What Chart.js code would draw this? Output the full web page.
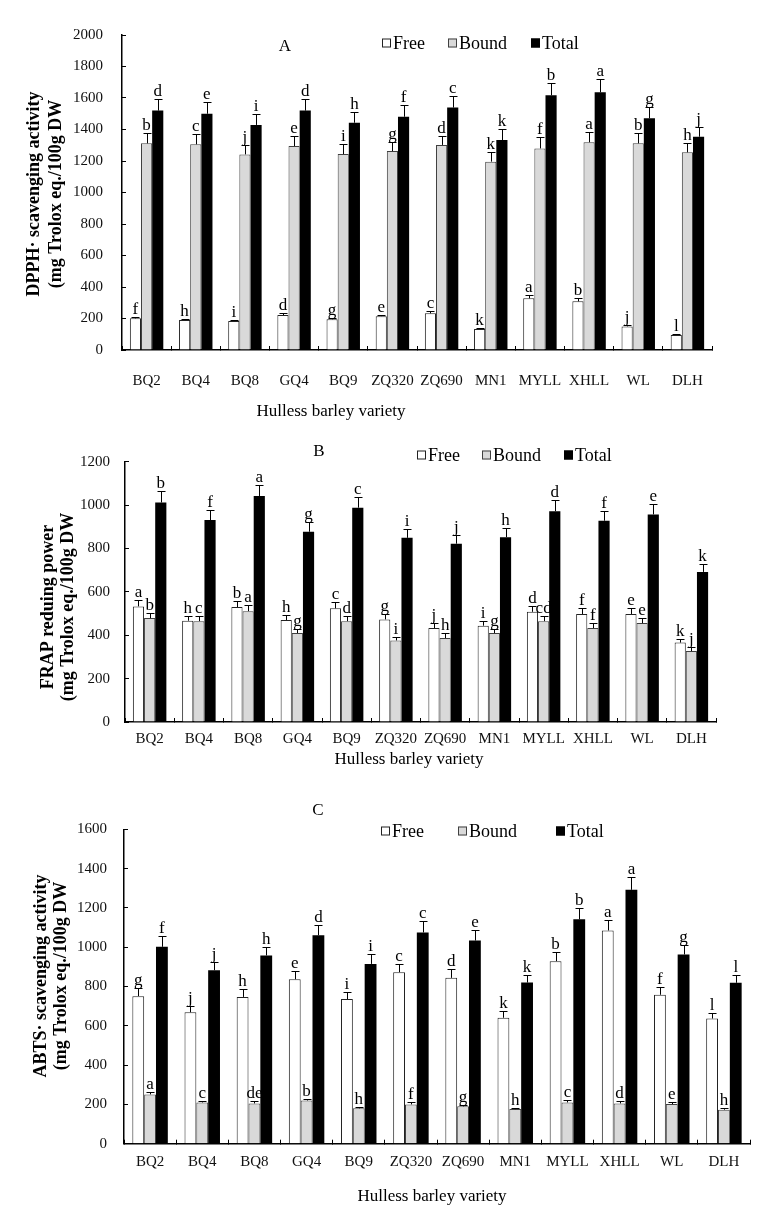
<!DOCTYPE html>
<html>
<head>
<meta charset="utf-8">
<script src="https://cdn.jsdelivr.net/npm/chart.js@4.4.1/dist/chart.umd.min.js"></script>
<style>
  html, body { margin: 0; padding: 0; background: #fff; }
  #page { position: relative; width: 770px; height: 1220px; overflow: hidden; }
  .panel { position: absolute; left: 0; width: 770px; }
</style>
</head>
<body>
<div id="page">
  <div class="panel" style="top:0;height:425px"><canvas id="chartA"></canvas></div>
  <div class="panel" style="top:425px;height:370px"><canvas id="chartB"></canvas></div>
  <div class="panel" style="top:795px;height:425px"><canvas id="chartC"></canvas></div>
</div>
<script>
// Variedades de cebada
const varieties = ['BQ2', 'BQ4', 'BQ8', 'GQ4', 'BQ9', 'ZQ320', 'ZQ690', 'MN1', 'MYLL', 'XHLL', 'WL', 'DLH'];
const seriesNames = ['Free', 'Bound', 'Total'];

// A: DPPH
const dpphFree = [201, 190, 184, 222, 195, 215, 233, 133, 328, 309, 150, 95];
const dpphFreeErr = [8, 6, 6, 10, 6, 10, 13, 5, 19, 19, 6, 4];
const dpphFreeLetters = ['f', 'h', 'i', 'd', 'g', 'e', 'c', 'k', 'a', 'b', 'j', 'l'];
const dpphBound = [1312, 1306, 1242, 1295, 1244, 1263, 1302, 1196, 1280, 1319, 1312, 1255];
const dpphBoundErr = [64, 63, 57, 64, 66, 60, 59, 63, 70, 67, 68, 57];
const dpphBoundLetters = ['b', 'c', 'j', 'e', 'i', 'g', 'd', 'k', 'f', 'a', 'b', 'h'];
const dpphTotal = [1520, 1500, 1429, 1520, 1443, 1481, 1539, 1333, 1617, 1636, 1471, 1354];
const dpphTotalErr = [74, 72, 67, 72, 70, 75, 72, 68, 80, 82, 74, 64];
const dpphTotalLetters = ['d', 'e', 'i', 'd', 'h', 'f', 'c', 'k', 'b', 'a', 'g', 'j'];

// B: FRAP
const frapFree = [533, 467, 530, 470, 524, 473, 433, 444, 508, 498, 498, 366];
const frapFreeErr = [28, 23, 26, 25, 29, 23, 25, 23, 28, 27, 27, 16];
const frapFreeLetters = ['a', 'h', 'b', 'h', 'c', 'g', 'j', 'i', 'd', 'f', 'e', 'k'];
const frapBound = [479, 465, 511, 410, 465, 376, 387, 410, 465, 433, 456, 327];
const frapBoundErr = [25, 22, 28, 20, 22, 18, 23, 18, 22, 23, 25, 17];
const frapBoundLetters = ['b', 'c', 'a', 'g', 'd', 'i', 'h', 'g', 'cd', 'f', 'e', 'j'];
const frapTotal = [1012, 931, 1042, 877, 988, 849, 822, 852, 972, 928, 957, 692];
const frapTotalErr = [53, 46, 52, 43, 49, 43, 40, 43, 50, 47, 48, 35];
const frapTotalLetters = ['b', 'f', 'a', 'g', 'c', 'i', 'j', 'h', 'd', 'f', 'e', 'k'];

// C: ABTS
const abtsFree = [751, 669, 747, 837, 736, 873, 844, 641, 929, 1085, 758, 637];
const abtsFreeErr = [39, 33, 38, 41, 37, 41, 44, 34, 47, 51, 37, 29];
const abtsFreeLetters = ['g', 'j', 'h', 'e', 'i', 'c', 'd', 'k', 'b', 'a', 'f', 'l'];
const abtsBound = [251, 210, 205, 220, 180, 200, 190, 176, 210, 205, 202, 173];
const abtsBoundErr = [12, 9, 10, 10, 9, 10, 7, 7, 10, 10, 10, 9];
const abtsBoundLetters = ['a', 'c', 'de', 'b', 'h', 'f', 'g', 'h', 'c', 'd', 'e', 'h'];
const abtsTotal = [1002, 883, 958, 1061, 915, 1075, 1034, 820, 1142, 1292, 963, 819];
const abtsTotalErr = [54, 44, 45, 54, 48, 57, 52, 41, 56, 64, 49, 40];
const abtsTotalLetters = ['f', 'j', 'h', 'd', 'i', 'c', 'e', 'k', 'b', 'a', 'g', 'l'];

const serif = "'Liberation Serif', 'Times New Roman', serif";
const fills = ['#ffffff', '#d9d9d9', '#000000'];
const borders = ['#222222', '#404040', '#000000'];

// Barras de error, letras, leyenda y títulos
const panelDecor = {
    id: 'panelDecor',
    afterDatasetsDraw(chart) {
        const ctx = chart.ctx;
        const yScale = chart.scales.y;
        ctx.save();
        ctx.strokeStyle = '#000';
        ctx.lineWidth = 1;
        ctx.fillStyle = '#000';
        ctx.font = '17px ' + serif;
        ctx.textAlign = 'center';
        ctx.textBaseline = 'alphabetic';
        chart.data.datasets.forEach((ds, i) => {
            const meta = chart.getDatasetMeta(i);
            meta.data.forEach((bar, j) => {
                const top = Math.round(yScale.getPixelForValue(ds.data[j] + ds.errors[j])) + 0.5;
                const x = Math.round(bar.x) + 0.5;
                ctx.beginPath();
                ctx.moveTo(x, bar.y);
                ctx.lineTo(x, top);
                ctx.moveTo(x - 4, top);
                ctx.lineTo(x + 4, top);
                ctx.stroke();
                ctx.fillText(ds.letters[j], bar.x, top - 4);
            });
        });
        ctx.restore();
    },
    afterDraw(chart, args, opts) {
        const ctx = chart.ctx;
        ctx.save();
        ctx.fillStyle = '#000';

        // Letra del panel
        ctx.font = '17px ' + serif;
        ctx.textAlign = 'center';
        ctx.textBaseline = 'middle';
        ctx.fillText(opts.letter.text, opts.letter.x, opts.letter.y);

        // Leyenda
        ctx.font = '18px ' + serif;
        ctx.textAlign = 'left';
        opts.legend.xs.forEach((bx, i) => {
            const by = opts.legend.y - 4.5;
            ctx.fillStyle = fills[i];
            ctx.fillRect(bx, by, 9, 9);
            ctx.strokeStyle = borders[i];
            ctx.lineWidth = 1;
            ctx.strokeRect(bx + 0.5, by + 0.5, 8, 8);
            ctx.fillStyle = '#000';
            ctx.fillText(seriesNames[i], bx + 11, opts.legend.y + 1);
        });

        // Título del eje x
        ctx.font = '17px ' + serif;
        ctx.textAlign = 'center';
        ctx.fillText(opts.xTitle.text, opts.xTitle.x, opts.xTitle.y);

        // Título del eje y (dos líneas, girado)
        ctx.font = 'bold 18px ' + serif;
        opts.yTitle.lines.forEach((line, i) => {
            ctx.save();
            ctx.translate(opts.yTitle.xs[i], opts.yTitle.y);
            ctx.rotate(-Math.PI / 2);
            ctx.fillText(line, 0, 0);
            ctx.restore();
        });
        ctx.restore();
    }
};

function makeDataset(i, values, errors, letters) {
    return {
        label: seriesNames[i],
        data: values,
        errors: errors,
        letters: letters,
        backgroundColor: fills[i],
        borderColor: borders[i],
        borderWidth: i === 2 ? 0 : 1,
        categoryPercentage: 0.68,
        barPercentage: 1.0
    };
}

function makePanel(canvasId, p) {
    return new Chart(document.getElementById(canvasId), {
        type: 'bar',
        data: {
            labels: varieties,
            datasets: [
                makeDataset(0, p.free, p.freeErr, p.freeLetters),
                makeDataset(1, p.bound, p.boundErr, p.boundLetters),
                makeDataset(2, p.total, p.totalErr, p.totalLetters)
            ]
        },
        options: {
            responsive: true,
            maintainAspectRatio: false,
            animation: false,
            layout: {
                padding: { top: p.area.top, right: 770 - p.area.right, bottom: 0, left: 0 }
            },
            plugins: {
                legend: { display: false },
                title: { display: false },
                tooltip: { enabled: false },
                panelDecor: p.decor
            },
            scales: {
                x: {
                    afterFit: (scale) => { scale.height = p.height - p.area.bottom; },
                    grid: { drawOnChartArea: false, drawTicks: true, tickLength: -4, color: '#000', lineWidth: 1 },
                    border: { display: true, color: '#000', width: 1.5 },
                    ticks: { color: '#111', padding: p.xTickPad, font: { family: serif, size: 15 } }
                },
                y: {
                    min: 0,
                    max: p.yMax,
                    afterFit: (scale) => { scale.width = p.area.left; },
                    grid: { drawOnChartArea: false, drawTicks: true, tickLength: -4, color: '#000', lineWidth: 1 },
                    border: { display: true, color: '#000', width: 1.5 },
                    ticks: {
                        stepSize: 200,
                        color: '#111',
                        padding: p.yTickPad,
                        font: { family: serif, size: 15 },
                        callback: (value) => String(value)
                    }
                }
            }
        },
        plugins: [panelDecor]
    });
}

makePanel('chartA', {
    free: dpphFree, freeErr: dpphFreeErr, freeLetters: dpphFreeLetters,
    bound: dpphBound, boundErr: dpphBoundErr, boundLetters: dpphBoundLetters,
    total: dpphTotal, totalErr: dpphTotalErr, totalLetters: dpphTotalLetters,
    yMax: 2000, height: 425,
    area: { top: 35, bottom: 350, left: 122, right: 712 },
    xTickPad: 26, yTickPad: 23,
    decor: {
        letter: { text: 'A', x: 285, y: 47 },
        legend: { y: 43, xs: [382, 448, 531] },
        xTitle: { text: 'Hulless barley variety', x: 331, y: 412 },
        yTitle: { lines: ['DPPH· scavenging activity', '(mg Trolox eq./100g DW'], xs: [34, 56], y: 194 }
    }
});

makePanel('chartB', {
    free: frapFree, freeErr: frapFreeErr, freeLetters: frapFreeLetters,
    bound: frapBound, boundErr: frapBoundErr, boundLetters: frapBoundLetters,
    total: frapTotal, totalErr: frapTotalErr, totalLetters: frapTotalLetters,
    yMax: 1200, height: 370,
    area: { top: 36.7, bottom: 297, left: 125, right: 716 },
    xTickPad: 12, yTickPad: 19,
    decor: {
        letter: { text: 'B', x: 319, y: 27 },
        legend: { y: 30, xs: [417, 482, 564] },
        xTitle: { text: 'Hulless barley variety', x: 409, y: 335 },
        yTitle: { lines: ['FRAP reduing power', '(mg Trolox eq./100g DW'], xs: [48, 68], y: 182 }
    }
});

makePanel('chartC', {
    free: abtsFree, freeErr: abtsFreeErr, freeLetters: abtsFreeLetters,
    bound: abtsBound, boundErr: abtsBoundErr, boundLetters: abtsBoundLetters,
    total: abtsTotal, totalErr: abtsTotalErr, totalLetters: abtsTotalLetters,
    yMax: 1600, height: 425,
    area: { top: 34.3, bottom: 348.7, left: 124, right: 750 },
    xTickPad: 13, yTickPad: 21,
    decor: {
        letter: { text: 'C', x: 318, y: 16 },
        legend: { y: 36, xs: [381, 458, 556] },
        xTitle: { text: 'Hulless barley variety', x: 432, y: 402 },
        yTitle: { lines: ['ABTS· scavenging activity', '(mg Trolox eq./100g DW'], xs: [41, 61], y: 181 }
    }
});
</script>
</body>
</html>
